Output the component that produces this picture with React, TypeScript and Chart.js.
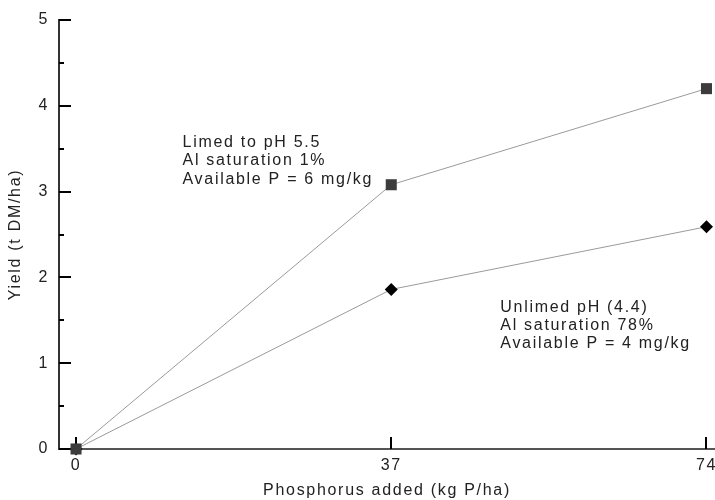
import React, { useEffect, useRef } from 'react';
import { Chart, registerables } from 'chart.js';

Chart.register(...registerables);

// ---- data ----
const phosphorus = [0, 37, 74];
const limedYield = [0, 3.08, 4.2];
const unlimedYield = [0, 1.86, 2.59];
const xTickValues = [0, 37, 74];
const yTickValues = [0, 1, 2, 3, 4, 5];
const yMinorTickValues = [0.5, 1.5, 2.5, 3.5, 4.5];
const limedNote = ['Limed to pH 5.5', 'Al saturation 1%', 'Available P = 6 mg/kg'];
const unlimedNote = ['Unlimed pH (4.4)', 'Al saturation 78%', 'Available P = 4 mg/kg'];
const limedNoteAnchor = { x: 12.5, y: 3.52 };
const unlimedNoteAnchor = { x: 49.8, y: 1.6 };
const xTitle = 'Phosphorus added (kg P/ha)';
const yTitle = 'Yield (t DM/ha)';

const FONT = '"Liberation Sans", Arial, Helvetica, sans-serif';
const TEXT = '#222';
const SIZE = 16;
const SPACING = '1.7px';

const spacingPlugin = {
  id: 'letterSpacing',
  beforeDraw(chart: any) {
    chart.ctx.letterSpacing = SPACING;
  },
};

const axisTicksPlugin = {
  id: 'axisTicks',
  beforeDatasetsDraw(chart: any) {
    const { ctx, chartArea } = chart;
    const xs = chart.scales.x;
    const ys = chart.scales.y;
    ctx.save();
    ctx.strokeStyle = '#000';
    ctx.lineWidth = 2;
    ctx.beginPath();
    yTickValues.forEach((v) => {
      const py = Math.round(ys.getPixelForValue(v));
      ctx.moveTo(chartArea.left, py);
      ctx.lineTo(chartArea.left + 12, py);
    });
    yMinorTickValues.forEach((v) => {
      const py = Math.round(ys.getPixelForValue(v));
      ctx.moveTo(chartArea.left, py);
      ctx.lineTo(chartArea.left + 5, py);
    });
    xTickValues.forEach((v) => {
      const px = Math.round(xs.getPixelForValue(v));
      ctx.moveTo(px, chartArea.bottom);
      ctx.lineTo(px, chartArea.bottom - 12);
    });
    ctx.stroke();
    ctx.restore();
  },
};

const notesPlugin = {
  id: 'notes',
  afterDatasetsDraw(chart: any) {
    const { ctx } = chart;
    const xs = chart.scales.x;
    const ys = chart.scales.y;
    ctx.save();
    ctx.font = `${SIZE}px ${FONT}`;
    ctx.fillStyle = TEXT;
    ctx.textAlign = 'left';
    ctx.textBaseline = 'alphabetic';
    (ctx as any).letterSpacing = SPACING;
    const draw = (lines: string[], a: { x: number; y: number }) => {
      const px = xs.getPixelForValue(a.x);
      const py = ys.getPixelForValue(a.y);
      lines.forEach((t, i) => ctx.fillText(t, px, py + i * 18.3));
    };
    draw(limedNote, limedNoteAnchor);
    draw(unlimedNote, unlimedNoteAnchor);
    ctx.restore();
  },
};

export default function App() {
  const ref = useRef<HTMLCanvasElement>(null);

  useEffect(() => {
    if (!ref.current) return;
    const chart = new Chart(ref.current, {
      type: 'line',
      data: {
        datasets: [
          {
            label: 'Limed',
            data: phosphorus.map((p, i) => ({ x: p, y: limedYield[i] })),
            borderColor: '#9a9a9a',
            borderWidth: 1,
            pointStyle: 'rect',
            pointRadius: 7.8,
            pointBackgroundColor: '#3c3c3c',
            pointBorderColor: '#3c3c3c',
            pointBorderWidth: 0,
            clip: false as any,
          },
          {
            label: 'Unlimed',
            data: phosphorus.map((p, i) => ({ x: p, y: unlimedYield[i] })),
            borderColor: '#9a9a9a',
            borderWidth: 1,
            pointStyle: 'rectRot',
            pointRadius: 6.5,
            pointBackgroundColor: '#000',
            pointBorderColor: '#000',
            pointBorderWidth: 0,
            clip: false as any,
          },
        ],
      },
      options: {
        animation: false,
        responsive: false,
        layout: { autoPadding: false, padding: { top: 20, right: 0, left: 0, bottom: 0 } },
        plugins: {
          legend: { display: false },
          tooltip: { enabled: false },
        },
        scales: {
          x: {
            type: 'linear',
            min: -2,
            max: 75,
            afterBuildTicks: (s: any) => {
              s.ticks = xTickValues.map((v) => ({ value: v }));
            },
            afterFit: (s: any) => {
              s.height = 51;
              s.paddingRight = 0;
            },
            grid: {
              display: true,
              drawOnChartArea: false,
              drawTicks: true,
              tickLength: 7,
              color: 'rgba(0,0,0,0)',
            },
            border: { display: true, color: '#555', width: 2 },
            ticks: {
              padding: 0,
              color: TEXT,
              font: { family: FONT, size: SIZE },
              autoSkip: false,
              maxRotation: 0,
            },
            title: {
              display: true,
              text: xTitle,
              color: TEXT,
              font: { family: FONT, size: SIZE },
              padding: 0,
            },
          },
          y: {
            type: 'linear',
            min: 0,
            max: 5,
            afterBuildTicks: (s: any) => {
              s.ticks = yTickValues.map((v) => ({ value: v }));
            },
            afterFit: (s: any) => {
              s.width = 59;
            },
            grid: { display: true, drawOnChartArea: false, drawTicks: false },
            border: { display: true, color: '#333', width: 2 },
            ticks: {
              padding: 10,
              color: TEXT,
              font: { family: FONT, size: SIZE },
            },
            title: {
              display: true,
              text: yTitle,
              color: TEXT,
              font: { family: FONT, size: SIZE },
              padding: { top: 6, bottom: 0 },
            },
          },
        },
      },
      plugins: [spacingPlugin, axisTicksPlugin, notesPlugin],
    });
    return () => chart.destroy();
  }, []);

  return (
    <div style={{ position: 'fixed', left: 0, top: 0, width: 715, height: 500, background: '#fff' }}>
      <canvas ref={ref} width={715} height={500} style={{ display: 'block' }} />
    </div>
  );
}
